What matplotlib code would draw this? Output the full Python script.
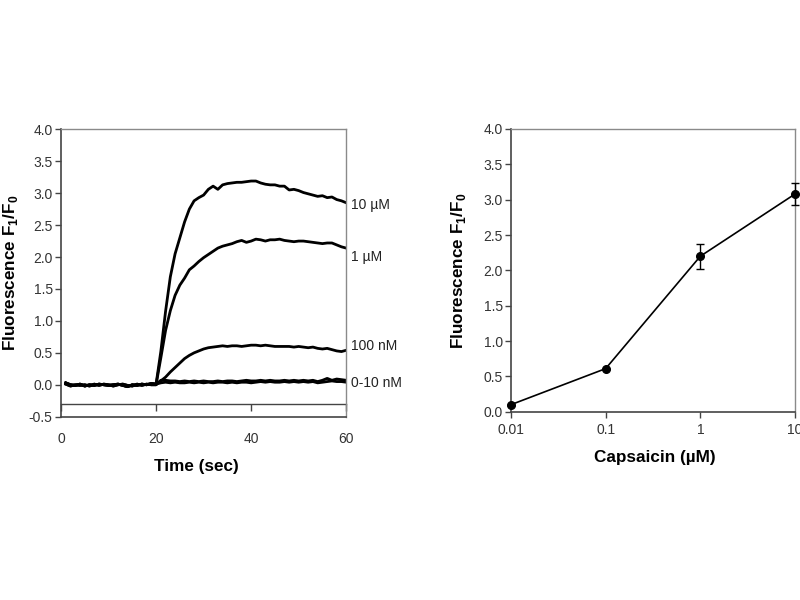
import matplotlib
matplotlib.use("Agg")
import matplotlib.pyplot as plt

plt.rcParams['font.family'] = ['Liberation Sans', 'DejaVu Sans']

# ---------------- data: left panel (time course) ----------------
time = list(range(1, 61))
baseline_a = [0.03, 0.00, -0.01, 0.01, -0.02, 0.00, -0.01, 0.01, 0.00, -0.01,
              0.00, 0.01, -0.01, -0.03, 0.00, -0.01, 0.01, 0.00, 0.02, 0.01]
baseline_b = [0.01, -0.02, 0.00, -0.01, 0.00, -0.02, 0.01, -0.01, 0.01, 0.00,
              -0.02, 0.00, 0.01, -0.01, -0.02, 0.01, -0.01, 0.01, 0.00, 0.00]
rise_10uM = [0.52, 1.15, 1.69, 2.05, 2.30, 2.55, 2.75, 2.88, 2.93, 2.97,
             3.06, 3.11, 3.06, 3.13, 3.15, 3.16, 3.17, 3.17, 3.18, 3.19,
             3.19, 3.16, 3.14, 3.13, 3.13, 3.11, 3.11, 3.05, 3.06, 3.04,
             3.01, 2.99, 2.97, 2.95, 2.96, 2.93, 2.94, 2.90, 2.88, 2.85]
rise_1uM = [0.42, 0.85, 1.16, 1.40, 1.56, 1.67, 1.80, 1.86, 1.93, 1.99,
            2.04, 2.09, 2.14, 2.17, 2.19, 2.21, 2.24, 2.26, 2.23, 2.25,
            2.28, 2.27, 2.25, 2.27, 2.27, 2.28, 2.26, 2.25, 2.24, 2.25,
            2.25, 2.24, 2.23, 2.22, 2.21, 2.22, 2.22, 2.19, 2.16, 2.14]
rise_100nM = [0.06, 0.12, 0.20, 0.27, 0.34, 0.41, 0.46, 0.50, 0.53, 0.56,
              0.58, 0.59, 0.60, 0.61, 0.60, 0.61, 0.61, 0.60, 0.61, 0.62,
              0.62, 0.61, 0.62, 0.61, 0.60, 0.60, 0.60, 0.60, 0.59, 0.60,
              0.59, 0.58, 0.59, 0.57, 0.56, 0.57, 0.55, 0.53, 0.52, 0.54]
rise_10nM = [0.07, 0.07, 0.06, 0.06, 0.05, 0.06, 0.05, 0.06, 0.05, 0.06,
             0.05, 0.05, 0.06, 0.05, 0.06, 0.06, 0.05, 0.06, 0.07, 0.06,
             0.06, 0.07, 0.06, 0.07, 0.06, 0.06, 0.07, 0.06, 0.07, 0.06,
             0.07, 0.06, 0.07, 0.05, 0.07, 0.10, 0.07, 0.09, 0.08, 0.07]
rise_0nM = [0.03, 0.04, 0.03, 0.04, 0.03, 0.03, 0.04, 0.03, 0.04, 0.03,
            0.04, 0.03, 0.04, 0.04, 0.03, 0.04, 0.03, 0.04, 0.04, 0.03,
            0.04, 0.05, 0.04, 0.05, 0.04, 0.04, 0.05, 0.04, 0.05, 0.04,
            0.05, 0.04, 0.05, 0.03, 0.04, 0.05, 0.06, 0.05, 0.05, 0.04]
series_left = [
    ("10 µM", baseline_a + rise_10uM, 2.82),
    ("1 µM", baseline_b + rise_1uM, 2.00),
    ("100 nM", baseline_a + rise_100nM, 0.60),
    ("0-10 nM", baseline_b + rise_10nM, 0.03),
    (None, baseline_a + rise_0nM, None),
]
left_yticks = [-0.5, 0.0, 0.5, 1.0, 1.5, 2.0, 2.5, 3.0, 3.5, 4.0]
left_xticks = [0, 20, 40, 60]

# ---------------- data: right panel (dose response) ----------------
capsaicin = [0.01, 0.1, 1, 10]
response = [0.10, 0.61, 2.20, 3.08]
response_err = [0.0, 0.0, 0.18, 0.16]
right_xticklabels = ["0.01", "0.1", "1", "10"]
right_yticks = [0.0, 0.5, 1.0, 1.5, 2.0, 2.5, 3.0, 3.5, 4.0]

ylabel = "Fluorescence F$_\\mathregular{1}$/F$_\\mathregular{0}$"
tick_color = "#333333"
label_size = 12.3

fig = plt.figure(figsize=(8, 6), dpi=100)

# ---------------- left panel ----------------
ax1 = fig.add_axes([0.07625, 0.3055, 0.3565, 0.479])
for label, vals, ly in series_left:
    ax1.plot(time, vals, color="black", lw=2.0, solid_joinstyle="round")
    if label:
        ax1.text(61.0, ly, label, fontsize=10, va="center", ha="left",
                 color="#222222")
ax1.set_xlim(0, 60)
ax1.set_ylim(-0.5, 4.0)
ax1.set_yticks(left_yticks)
ax1.set_yticklabels([f"{v:.1f}" for v in left_yticks])
ax1.set_xticks(left_xticks)
ax1.set_xticklabels([str(v) for v in left_xticks])
ax1.tick_params(axis="y", direction="out", length=4, width=1, pad=2,
                labelsize=10, colors="#444444", labelcolor=tick_color)
ax1.tick_params(axis="x", length=0, pad=11, labelsize=10,
                labelcolor=tick_color)
# crossing axis line at y=-0.3 with its tick marks
sec = ax1.secondary_xaxis(0.2 / 4.5)
sec.set_xticks(left_xticks)
sec.tick_params(axis="x", direction="out", length=5, width=1,
                labelbottom=False, colors="#444444")
sec.spines["bottom"].set_color("#444444")
sec.spines["bottom"].set_linewidth(1.0)
for s in ["left", "bottom"]:
    ax1.spines[s].set_color("#444444")
    ax1.spines[s].set_linewidth(1.2)
for s in ["top", "right"]:
    ax1.spines[s].set_color("#8a8a8a")
    ax1.spines[s].set_linewidth(1.0)
ax1.set_xlabel("Time (sec)", fontsize=label_size, fontweight="bold")
ax1.xaxis.set_label_coords(0.474, -0.148)
ax1.set_ylabel(ylabel, fontsize=label_size, fontweight="bold")
ax1.yaxis.set_label_coords(-0.145, 0.5)

# ---------------- right panel ----------------
ax2 = fig.add_axes([0.63875, 0.3138, 0.355, 0.4712])
ax2.errorbar(capsaicin, response, yerr=response_err, color="black", lw=1.2,
             marker="o", ms=5.5, capsize=3, elinewidth=1.0, capthick=1.0,
             clip_on=False, zorder=3)
ax2.set_xscale("log")
ax2.set_xlim(0.01, 10)
ax2.set_ylim(0, 4.0)
ax2.set_xticks(capsaicin)
ax2.set_xticklabels(right_xticklabels)
ax2.xaxis.set_minor_locator(matplotlib.ticker.NullLocator())
ax2.set_yticks(right_yticks)
ax2.set_yticklabels([f"{v:.1f}" for v in right_yticks])
ax2.tick_params(axis="both", direction="out", length=4, width=1, pad=2,
                labelsize=10, colors="#444444", labelcolor=tick_color)
ax2.tick_params(axis="x", pad=4)
for s in ["left", "bottom"]:
    ax2.spines[s].set_color("#444444")
    ax2.spines[s].set_linewidth(1.2)
for s in ["top", "right"]:
    ax2.spines[s].set_color("#8a8a8a")
    ax2.spines[s].set_linewidth(1.0)
ax2.set_xlabel("Capsaicin (µM)", fontsize=label_size, fontweight="bold")
ax2.xaxis.set_label_coords(0.507, -0.135)
ax2.set_ylabel(ylabel, fontsize=label_size, fontweight="bold")
ax2.yaxis.set_label_coords(-0.150, 0.5)

fig.savefig("out.png", dpi=100)
